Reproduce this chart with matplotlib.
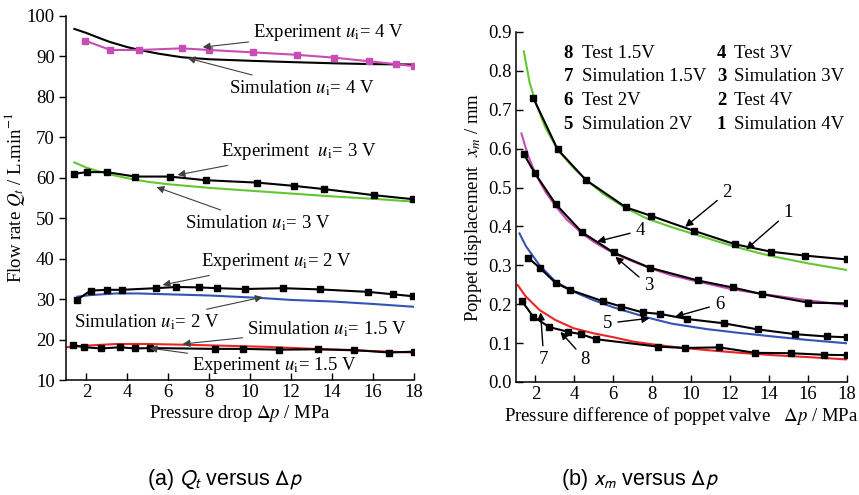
import numpy as np
import matplotlib
matplotlib.use("Agg")
import matplotlib.pyplot as plt

plt.rcParams['font.family'] = ['Liberation Serif', 'DejaVu Serif']
plt.rcParams['mathtext.fontset'] = 'stix'

# ---- (a) flow rate vs pressure drop ----
exp4_x = [1.94, 3.17, 4.59, 6.66, 7.97, 10.14, 12.27, 14.1, 15.8, 17.1, 18.0]
exp4_y = [93.9, 91.6, 91.6, 92.0, 91.6, 91.0, 90.4, 89.7, 88.8, 88.1, 87.6]
sim4_x = [1.41, 2.0, 2.5, 3.13, 4.0, 4.59, 5.5, 6.66, 8.0, 10.14, 12.0, 14.1, 16.0, 18.0]
sim4_y = [96.8, 95.8, 94.8, 93.6, 92.3, 91.6, 90.7, 89.8, 89.3, 88.9, 88.6, 88.3, 88.1, 88.0]

exp3_x = [1.41, 2.01, 2.99, 4.38, 6.06, 7.82, 10.35, 12.13, 13.61, 16.04, 17.96]
exp3_y = [61.0, 61.4, 61.4, 60.3, 60.3, 59.4, 58.8, 58.0, 57.2, 55.7, 54.7]
sim3_x = [1.41, 2.0, 3.0, 4.0, 5.0, 6.0, 8.0, 10.0, 12.0, 14.0, 16.0, 18.0]
sim3_y = [63.8, 62.5, 61.0, 59.9, 59.0, 58.4, 57.5, 56.8, 56.1, 55.4, 54.8, 54.1]

exp2_x = [1.56, 2.20, 3.02, 3.73, 5.38, 6.39, 7.48, 8.36, 9.72, 11.60, 13.40, 15.73, 16.97, 17.96]
exp2_y = [29.9, 32.1, 32.3, 32.3, 32.7, 33.0, 32.9, 32.7, 32.5, 32.7, 32.4, 31.8, 31.2, 30.7]
sim2_x = [1.56, 2.2, 3.45, 4.5, 5.9, 8.0, 10.46, 12.0, 14.05, 16.0, 18.0]
sim2_y = [30.6, 31.0, 31.4, 31.4, 31.2, 30.9, 30.3, 29.8, 29.4, 28.8, 28.1]

exp15_x = [1.36, 1.90, 2.72, 3.65, 4.35, 5.12, 8.26, 9.65, 11.41, 13.32, 15.08, 16.79, 18.0]
exp15_y = [18.6, 18.1, 17.8, 18.1, 17.8, 17.9, 17.7, 17.7, 17.5, 17.6, 17.4, 16.8, 17.0]
sim15_x = [1.0, 2.0, 3.45, 5.0, 7.0, 10.8, 14.0, 18.0]
sim15_y = [18.1, 18.5, 18.9, 18.9, 18.7, 18.2, 17.5, 16.8]

# ---- (b) poppet displacement vs pressure difference ----
t4_x = [1.88, 3.14, 4.60, 6.65, 7.95, 10.12, 12.26, 14.1, 15.85, 18.0]
t4_y = [0.731, 0.598, 0.519, 0.449, 0.427, 0.389, 0.354, 0.335, 0.325, 0.315]
s4_x = [1.4, 1.7, 2.0, 2.5, 3.14, 4.0, 4.6, 5.5, 6.65, 7.73, 9.0, 10.1, 11.0, 12.3, 14.0, 16.0, 18.0]
s4_y = [0.85, 0.77, 0.72, 0.655, 0.597, 0.548, 0.52, 0.483, 0.447, 0.42, 0.398, 0.381, 0.367, 0.347, 0.325, 0.305, 0.288]

t3_x = [1.40, 1.97, 3.03, 4.39, 6.01, 7.86, 10.34, 12.13, 13.62, 16.02, 18.0]
t3_y = [0.586, 0.537, 0.458, 0.385, 0.333, 0.294, 0.261, 0.243, 0.226, 0.204, 0.202]
s3_x = [1.28, 1.6, 2.0, 2.5, 3.03, 3.6, 4.39, 5.0, 6.01, 7.0, 7.86, 9.0, 10.34, 12.13, 14.0, 16.0, 18.0]
s3_y = [0.639, 0.585, 0.535, 0.49, 0.452, 0.418, 0.382, 0.36, 0.331, 0.31, 0.293, 0.274, 0.258, 0.238, 0.224, 0.21, 0.198]

t2_x = [1.61, 2.21, 3.03, 3.76, 5.45, 6.41, 7.50, 8.41, 9.78, 11.66, 13.45, 15.33, 16.96, 18.0]
t2_y = [0.320, 0.294, 0.255, 0.237, 0.208, 0.194, 0.179, 0.175, 0.162, 0.151, 0.135, 0.123, 0.117, 0.115]
s2_x = [1.18, 1.5, 2.21, 3.03, 3.97, 5.0, 6.0, 7.73, 9.0, 10.8, 12.5, 14.2, 16.0, 18.0]
s2_y = [0.382, 0.35, 0.30, 0.258, 0.232, 0.21, 0.192, 0.166, 0.15, 0.136, 0.126, 0.117, 0.108, 0.0995]

t15_x = [1.32, 1.88, 2.72, 3.68, 4.34, 5.11, 8.27, 9.66, 11.45, 13.28, 15.11, 16.82, 18.0]
t15_y = [0.207, 0.168, 0.141, 0.129, 0.123, 0.110, 0.091, 0.0875, 0.089, 0.075, 0.074, 0.070, 0.069]
s15_x = [1.09, 1.5, 2.21, 3.0, 3.97, 5.0, 6.01, 7.0, 8.27, 9.5, 10.8, 12.5, 14.2, 16.0, 18.0]
s15_y = [0.249, 0.22, 0.185, 0.16, 0.138, 0.125, 0.115, 0.104, 0.095, 0.088, 0.082, 0.075, 0.069, 0.064, 0.058]

legend_left = [('8', 'Test 1.5V'), ('7', 'Simulation 1.5V'), ('6', 'Test 2V'), ('5', 'Simulation 2V')]
legend_right = [('4', 'Test 3V'), ('3', 'Simulation 3V'), ('2', 'Test 4V'), ('1', 'Simulation 4V')]

MAG = '#c84cb4'
GRN = '#62c832'
BLU = '#3454b4'
RED = '#ec2424'
FS = 13.5

fig = plt.figure(figsize=(8.59, 4.95), dpi=100)
ax1 = fig.add_axes([0.0768, 0.2323, 0.4052, 0.7354])
ax2 = fig.add_axes([0.6007, 0.2283, 0.3853, 0.7071])

for ax in (ax1, ax2):
    ax.spines['top'].set_visible(False)
    ax.spines['right'].set_visible(False)
    ax.spines['left'].set_linewidth(1.1)
    ax.spines['bottom'].set_linewidth(1.1)
    ax.tick_params(labelsize=FS, width=1.0, length=5, pad=3)

mk = dict(marker='s', markersize=5, lw=1.5)

# left panel
ax1.plot(sim4_x, sim4_y, color='black', lw=1.5)
ax1.plot(exp4_x, exp4_y, color=MAG, **mk)
ax1.plot(sim3_x, sim3_y, color=GRN, lw=1.5)
ax1.plot(exp3_x, exp3_y, color='black', **mk)
ax1.plot(sim2_x, sim2_y, color=BLU, lw=1.5)
ax1.plot(exp2_x, exp2_y, color='black', **mk)
ax1.plot(sim15_x, sim15_y, color=RED, lw=1.5)
ax1.plot(exp15_x, exp15_y, color='black', **mk)

ax1.set_xlim(1, 18)
ax1.set_ylim(10, 100)
ax1.set_xticks(np.arange(2, 19, 2))
ax1.set_yticks(np.arange(10, 101, 10))
ax1.tick_params(axis='x', direction='in')
ax1.tick_params(axis='y', direction='out')
ax1.set_xlabel(r'Pressure drop $\Delta p$ / MPa', fontsize=FS, labelpad=1)
ax1.set_ylabel(r'Flow rate $Q_t$ / L.min$^{-1}$', fontsize=FS, labelpad=0)

arr = dict(arrowstyle='-|>', color='0.25', lw=0.8, mutation_scale=11, shrinkA=1, shrinkB=0)
notes_a = [
    (r'Experiment $u_\mathrm{i}$= 4 V', (10.12, 95.8), (7.68, 92.3), 'left'),
    (r'Simulation $u_\mathrm{i}$= 4 V', (8.95, 82.2), (6.94, 89.6), 'left'),
    (r'Experiment  $u_\mathrm{i}$= 3 V', (8.56, 66.4), (6.45, 60.7), 'left'),
    (r'Simulation $u_\mathrm{i}$= 3 V', (6.79, 48.8), (5.42, 57.7), 'left'),
    (r'Experiment $u_\mathrm{i}$= 2 V', (7.58, 39.2), (5.72, 33.5), 'left'),
    (r'Simulation $u_\mathrm{i}$= 2 V', (8.51, 24.3), (10.61, 30.5), 'right'),
    (r'Simulation $u_\mathrm{i}$= 1.5 V', (9.83, 22.6), (6.70, 18.9), 'left'),
    (r'Experiment $u_\mathrm{i}$= 1.5 V', (7.14, 13.7), (5.08, 17.9), 'left'),
]
for txt, pos, tip, ha in notes_a:
    ax1.annotate(txt, xy=tip, xytext=pos, ha=ha, va='center', fontsize=FS,
                 arrowprops=arr)

# right panel
ax2.plot(s4_x, s4_y, color=GRN, lw=1.5)
ax2.plot(t4_x, t4_y, color='black', **mk)
ax2.plot(s3_x, s3_y, color=MAG, lw=1.5)
ax2.plot(t3_x, t3_y, color='black', **mk)
ax2.plot(s2_x, s2_y, color=BLU, lw=1.5)
ax2.plot(t2_x, t2_y, color='black', **mk)
ax2.plot(s15_x, s15_y, color=RED, lw=1.5)
ax2.plot(t15_x, t15_y, color='black', **mk)

ax2.set_xlim(1, 18)
ax2.set_ylim(0, 0.9)
ax2.set_xticks(np.arange(2, 19, 2))
ax2.set_yticks(np.arange(0, 0.91, 0.1))
ax2.yaxis.set_major_formatter(matplotlib.ticker.FormatStrFormatter('%.1f'))
ax2.tick_params(direction='in')
ax2.set_xlabel(r'Pressure difference of poppet valve   $\Delta p$ / MPa', fontsize=FS, labelpad=1)
ax2.set_ylabel(r'Poppet displacement  $x_m$ / mm', fontsize=FS, labelpad=3)

arr2 = dict(arrowstyle='-|>', color='black', lw=1.0, mutation_scale=11, shrinkA=2, shrinkB=0)
notes_b = [
    ('2', (11.83, 0.487), (9.69, 0.399)),
    ('1', (14.97, 0.435), (12.82, 0.341)),
    ('4', (7.38, 0.389), (5.16, 0.361)),
    ('3', (7.81, 0.249), (6.10, 0.322)),
    ('6', (11.45, 0.200), (9.18, 0.168)),
    ('5', (5.71, 0.151), (7.86, 0.164)),
    ('7', (2.43, 0.057), (2.26, 0.179)),
    ('8', (4.56, 0.058), (3.28, 0.129)),
]
for txt, pos, tip in notes_b:
    ax2.annotate(txt, xy=tip, xytext=pos, ha='center', va='center', fontsize=FS,
                 arrowprops=arr2)

rows_y = [0.845, 0.785, 0.725, 0.663]
for (n, lab), yy in zip(legend_left, rows_y):
    ax2.text(3.44, yy, n, fontsize=FS, fontweight='bold', va='center')
    ax2.text(4.39, yy, lab, fontsize=FS, va='center')
for (n, lab), yy in zip(legend_right, rows_y):
    ax2.text(11.32, yy, n, fontsize=FS, fontweight='bold', va='center')
    ax2.text(12.22, yy, lab, fontsize=FS, va='center')

# captions
cap = dict(fontsize=15.5, family=['Liberation Sans', 'DejaVu Sans'], ha='center', va='center',
           math_fontfamily='stixsans')
fig.text(0.262, 1 - 480 / 495, r'(a) $Q_t$ versus $\Delta p$', **cap)
fig.text(0.745, 1 - 480 / 495, r'(b) $x_m$ versus $\Delta p$', **cap)

fig.savefig('out.png', dpi=100)
